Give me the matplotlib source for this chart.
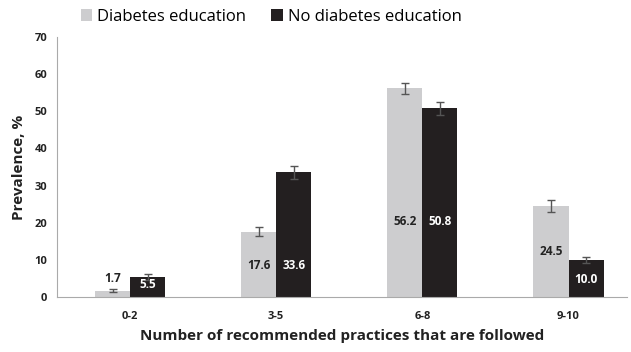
import numpy as np
import matplotlib.pyplot as plt

categories = ["0-2", "3-5", "6-8", "9-10"]
edu = [1.7, 17.6, 56.2, 24.5]
no_edu = [5.5, 33.6, 50.8, 10.0]
edu_err = [0.4, 1.2, 1.5, 1.7]
no_edu_err = [0.8, 1.8, 1.7, 0.9]

# where the value labels sit (data units)
edu_label_y = [5.1, 8.4, 20.2, 12.2]
no_edu_label_y = [3.4, 8.4, 20.2, 4.8]

plt.rcParams['font.family'] = ['Open Sans', 'DejaVu Sans']

grey = "#cdcdcf"
dark = "#231f20"

fig = plt.figure(figsize=(6.31, 3.52), dpi=100)
ax = fig.add_axes([57 / 631, 55 / 352, 570 / 631, 260 / 352])

x = np.arange(len(categories))
w = 0.24
ax.bar(x - w / 2, edu, w, color=grey, label="Diabetes education", zorder=2)
ax.bar(x + w / 2, no_edu, w, color=dark, label="No diabetes education", zorder=2)
ax.errorbar(x - w / 2, edu, yerr=edu_err, fmt="none", ecolor="#555555",
            elinewidth=1, capsize=3, capthick=1, zorder=3)
ax.errorbar(x + w / 2, no_edu, yerr=no_edu_err, fmt="none", ecolor="#555555",
            elinewidth=1, capsize=3, capthick=1, zorder=3)

for i in range(len(categories)):
    ax.text(x[i] - w / 2, edu_label_y[i], f"{edu[i]:.1f}", ha="center", va="center",
            fontsize=8.5, fontweight="bold", color="#222222", zorder=4)
    ax.text(x[i] + w / 2, no_edu_label_y[i], f"{no_edu[i]:.1f}", ha="center", va="center",
            fontsize=8.5, fontweight="bold", color="white", zorder=4)

ax.set_xlim(-0.5, 3.4)
ax.set_ylim(0, 70)
ax.set_yticks(range(0, 71, 10))
ax.set_xticks(x)
ax.set_xticklabels(categories)
ax.tick_params(axis="both", length=0, labelsize=8, colors="#222222")
ax.tick_params(axis="y", pad=7)
ax.tick_params(axis="x", pad=10)
for lab in ax.get_xticklabels() + ax.get_yticklabels():
    lab.set_fontweight("bold")

for s in ["top", "right"]:
    ax.spines[s].set_visible(False)
ax.spines["left"].set_color("#aaaaaa")
ax.spines["bottom"].set_color("#aaaaaa")

ax.set_ylabel("Prevalence, %", fontsize=11, fontweight="bold", color="#222222", labelpad=6)
ax.set_xlabel("Number of recommended practices that are followed", fontsize=11,
              fontweight="bold", color="#222222", labelpad=5)

fig.legend(loc="center", bbox_to_anchor=(0.43, 0.952), ncol=2, frameon=False,
           fontsize=12, handlelength=0.7, handleheight=0.7, handletextpad=0.3,
           columnspacing=1.5)

plt.savefig("out.png", dpi=100)
